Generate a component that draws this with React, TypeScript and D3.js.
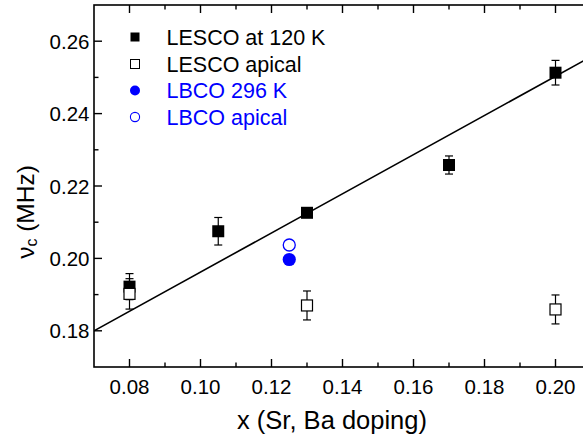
import React from "react";
import * as d3 from "d3";

const lescoX = [0.08, 0.105, 0.13, 0.17, 0.2];
const lescoY = [0.1922, 0.2075, 0.2126, 0.2258, 0.2513];
const lescoErr = [0.0036, 0.0038, 0.001, 0.0025, 0.0034];

const apicalX = [0.08, 0.13, 0.2];
const apicalY = [0.1902, 0.187, 0.1859];
const apicalErr = [0.0042, 0.004, 0.004];

const lbcoX = [0.125];
const lbcoY = [0.1997];
const lbcoApicalX = [0.125];
const lbcoApicalY = [0.2037];

const fitX = [0.07, 0.21];
const fitY = [0.18, 0.2557];

const xMajor = [0.08, 0.1, 0.12, 0.14, 0.16, 0.18, 0.2];
const xMinor = [0.09, 0.11, 0.13, 0.15, 0.17, 0.19];
const yMajor = [0.18, 0.2, 0.22, 0.24, 0.26];
const yMinor = [0.19, 0.21, 0.23, 0.25];

const legendLabels = ["LESCO at 120 K", "LESCO apical", "LBCO 296 K", "LBCO apical"];

const W = 583, H = 437;
const L = 94, R = 591, T = 5, B = 367;
const font = "Liberation Sans, Arial, sans-serif";
const blue = "#0000ff";

export default function App() {
  const x = d3.scaleLinear().domain([0.07, 0.21]).range([L, R]);
  const y = d3.scaleLinear().domain([0.17, 0.27]).range([B, T]);
  const line = d3.line<number>().x((_, i) => x(fitX[i])).y((d) => y(d));
  const sq = 12;
  const cap = 4;

  const errBar = (cx: number, cy: number, e: number, key: string) => (
    <g key={key} stroke="#000" strokeWidth={1.2}>
      <line x1={x(cx)} x2={x(cx)} y1={y(cy + e)} y2={y(cy - e)} />
      <line x1={x(cx) - cap} x2={x(cx) + cap} y1={y(cy + e)} y2={y(cy + e)} />
      <line x1={x(cx) - cap} x2={x(cx) + cap} y1={y(cy - e)} y2={y(cy - e)} />
    </g>
  );

  const legendY = [37, 64, 90.5, 117];
  return (
    <svg width={W} height={H} style={{ position: "absolute", left: 0, top: 0, background: "#fff" }} fontFamily={font}>
      <defs>
        <clipPath id="plot"><rect x={L} y={T} width={R - L} height={B - T} /></clipPath>
      </defs>
      <rect width={W} height={H} fill="#fff" />
      <path d={line(fitY) || ""} fill="none" stroke="#000" strokeWidth={1.6} clipPath="url(#plot)" />
      {lescoX.map((v, i) => errBar(v, lescoY[i], lescoErr[i], "le" + i))}
      {apicalX.map((v, i) => errBar(v, apicalY[i], apicalErr[i], "ae" + i))}
      {lescoX.map((v, i) => (
        <rect key={"ls" + i} x={x(v) - sq / 2} y={y(lescoY[i]) - sq / 2} width={sq} height={sq} fill="#000" />
      ))}
      {apicalX.map((v, i) => (
        <rect key={"as" + i} x={x(v) - 5.5} y={y(apicalY[i]) - 5.5} width={11} height={11} fill="#fff" stroke="#000" strokeWidth={1.2} />
      ))}
      {lbcoX.map((v, i) => (
        <circle key={"lb" + i} cx={x(v)} cy={y(lbcoY[i])} r={6.6} fill={blue} />
      ))}
      {lbcoApicalX.map((v, i) => (
        <circle key={"la" + i} cx={x(v)} cy={y(lbcoApicalY[i])} r={6} fill="#fff" stroke={blue} strokeWidth={1.3} />
      ))}
      <rect x={L} y={T} width={R - L} height={B - T} fill="none" stroke="#000" strokeWidth={1.6} />
      <g stroke="#000" strokeWidth={1.4}>
        {xMajor.map((v) => (
          <g key={"xm" + v}>
            <line x1={x(v)} x2={x(v)} y1={B} y2={B - 8} />
            <line x1={x(v)} x2={x(v)} y1={T} y2={T + 8} />
          </g>
        ))}
        {xMinor.map((v) => (
          <g key={"xn" + v}>
            <line x1={x(v)} x2={x(v)} y1={B} y2={B - 4.5} />
            <line x1={x(v)} x2={x(v)} y1={T} y2={T + 4.5} />
          </g>
        ))}
        {yMajor.map((v) => (
          <g key={"ym" + v}>
            <line x1={L} x2={L + 8} y1={y(v)} y2={y(v)} />
            <line x1={R} x2={R - 8} y1={y(v)} y2={y(v)} />
          </g>
        ))}
        {yMinor.map((v) => (
          <g key={"yn" + v}>
            <line x1={L} x2={L + 4.5} y1={y(v)} y2={y(v)} />
            <line x1={R} x2={R - 4.5} y1={y(v)} y2={y(v)} />
          </g>
        ))}
      </g>
      <g fontSize={20.5} fill="#000">
        {xMajor.map((v) => (
          <text key={"xl" + v} x={x(v)} y={393.5} textAnchor="middle">{d3.format(".2f")(v)}</text>
        ))}
        {yMajor.map((v) => (
          <text key={"yl" + v} x={89.5} y={y(v) + 7.5} textAnchor="end">{d3.format(".2f")(v)}</text>
        ))}
      </g>
      <text x={332} y={429} textAnchor="middle" fontSize={25.5}>x (Sr, Ba doping)</text>
      <text transform="translate(34,212) rotate(-90)" textAnchor="middle" fontSize={24.5}>
        ν<tspan fontSize={16} dy={3}>c</tspan><tspan dy={-3}> (MHz)</tspan>
      </text>
      <rect x={135 - 4.5} y={legendY[0] - 4.5} width={9} height={9} fill="#000" />
      <rect x={135 - 4.5} y={legendY[1] - 4.5} width={9} height={9} fill="#fff" stroke="#000" strokeWidth={1} />
      <circle cx={135} cy={legendY[2]} r={5} fill={blue} />
      <circle cx={135} cy={legendY[3]} r={4.6} fill="#fff" stroke={blue} strokeWidth={1.1} />
      {legendLabels.map((t, i) => (
        <text key={t} x={166.5} y={legendY[i] + 7.5} fontSize={21.5} fill={i < 2 ? "#000" : blue}>{t}</text>
      ))}
    </svg>
  );
}
